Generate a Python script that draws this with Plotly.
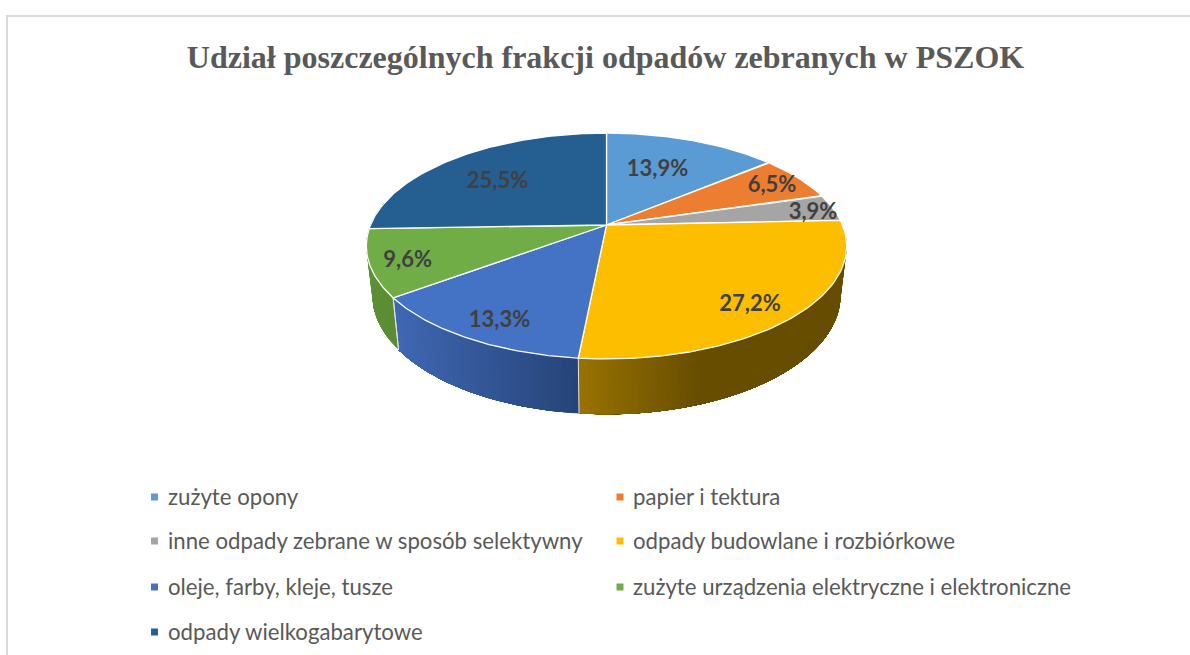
import numpy as np
import plotly.graph_objects as go

# ---- data ----
CATEGORIES = [
    "zużyte opony",
    "papier i tektura",
    "inne odpady zebrane w sposób selektywny",
    "odpady budowlane i rozbiórkowe",
    "oleje, farby, kleje, tusze",
    "zużyte urządzenia elektryczne i elektroniczne",
    "odpady wielkogabarytowe",
]
VALUES = [13.9, 6.5, 3.9, 27.2, 13.3, 9.6, 25.5]
COLORS = ["#5B9BD5", "#ED7D31", "#A5A5A5", "#FDBE00", "#4472C4", "#70AD47", "#255E91"]
TITLE = "Udział poszczególnych frakcji odpadów zebranych w PSZOK"

# ---- styling / layout constants ----
LABEL_RADII = [0.62, 0.85, 0.88, 0.80, 0.80, 0.85, 0.68]
LABEL_SHIFTS = [(-5, 1), (1, 2), (7, 4), (-2, 9), (0, 9), (1, 4), (-3, 5)]
LEGEND_COLS = [(154.5, 166), (620, 631)]
LEGEND_ROWS = [496, 540, 586, 631]
# side gradient (left x, left colour, right x, right colour), by slice index
SIDE_GRAD = {
    3: (578, (154, 116, 0), 700, (102, 77, 0)),
    4: (398, (64, 104, 180), 578, (38, 68, 120)),
    5: (365, (96, 146, 56), 398, (92, 140, 52)),
}
CX, CY = 606.5, 225.0
R, K, P = 236.0, 109.0, 0.186      # top disc projection
R2, K2, CY2 = 230.0, 115.0, 273.0  # bottom disc projection


def top(r, t):
    u, v = r * np.sin(t), r * np.cos(t)
    s = 1 / (1 + P * v)
    return CX + R * u * s, CY - K * v * s


def bottom(t):
    u, v = np.sin(t), np.cos(t)
    s = 1 / (1 + P * v)
    return CX + R2 * u * s, CY2 - K2 * v * s


total = sum(VALUES)
edges = 2 * np.pi * np.concatenate([[0], np.cumsum(VALUES)]) / total

fig = go.Figure()


def poly(xs, ys, fill, line="rgba(0,0,0,0)", width=0.0):
    fig.add_trace(go.Scatter(x=xs, y=ys, mode="lines", fill="toself", fillcolor=fill,
                             line=dict(color=line, width=width), hoverinfo="skip",
                             showlegend=False))


# side wall: overlapping bands, shaded left to right, painted so that no seams show
for i, (x0, c0, x1, c1) in SIDE_GRAD.items():
    a, b = edges[i], edges[i + 1]
    if i == 5:
        b = b + np.radians(14)  # wall wraps behind the rim
    ts = np.linspace(a, b, max(4, int(np.degrees(b - a) / 1.0)) + 1)
    bands = ts[:-1] if i != 3 else ts[:-1]
    for ta in bands:
        tt = np.linspace(ta, b, 40)
        xt, yt = top(1, tt)
        xb, yb = bottom(tt)
        xm = bottom(ta + (ts[1] - ts[0]) / 2)[0]
        w = float(np.clip((xm - x0) / (x1 - x0), 0, 1))
        col = "rgb(%d,%d,%d)" % tuple(c0[k] + (c1[k] - c0[k]) * w for k in range(3))
        poly(np.r_[xt, xb[::-1], xt[0]], np.r_[yt, yb[::-1], yt[0]], col)

# light seams on the wall
for i in (3, 4, 5):
    e = edges[i + 1] if i < 5 else edges[5]
    xa, ya = top(1, e)
    xb, yb = bottom(e)
    fig.add_trace(go.Scatter(x=[xa, xb], y=[ya, yb], mode="lines", hoverinfo="skip",
                             line=dict(color="#E4E4E4", width=1), showlegend=False))

# top face
for i, col in enumerate(COLORS):
    ts = np.linspace(edges[i], edges[i + 1], 80)
    xs, ys = top(1, ts)
    poly(np.r_[CX, xs, CX], np.r_[CY, ys, CY], col, "#FFFFFF", 1.3)

# data labels
mids = (edges[:-1] + edges[1:]) / 2
pts = [top(r, t) for r, t in zip(LABEL_RADII, mids)]
lx = [p[0] + s[0] for p, s in zip(pts, LABEL_SHIFTS)]
ly = [p[1] + s[1] for p, s in zip(pts, LABEL_SHIFTS)]
fig.add_trace(go.Scatter(
    x=lx, y=ly, mode="text",
    text=[f"<b>{v:.1f}%</b>".replace(".", ",") for v in VALUES],
    textposition="middle center",
    textfont=dict(family="Lato", size=22, color="#404040"),
    hoverinfo="skip", showlegend=False))

# legend
annotations = []
for i, (name, col) in enumerate(zip(CATEGORIES, COLORS)):
    mx, tx = LEGEND_COLS[i % 2]
    y = LEGEND_ROWS[i // 2]
    fig.add_trace(go.Scatter(x=[mx], y=[y + 1], mode="markers", hoverinfo="skip", showlegend=False,
                             marker=dict(symbol="square", size=7, color=col)))
    annotations.append(dict(x=tx, y=y, xref="x", yref="y", text=name, showarrow=False,
                            xanchor="left", yanchor="middle",
                            font=dict(family="Lato", size=22.2, color="#595959")))

fig.update_layout(
    width=1190, height=655,
    margin=dict(l=0, r=0, t=0, b=0),
    paper_bgcolor="white", plot_bgcolor="white",
    xaxis=dict(range=[0, 1190], visible=False, fixedrange=True),
    yaxis=dict(range=[655, 0], visible=False, fixedrange=True),
    title=dict(text=f"<b>{TITLE}</b>", x=605.5 / 1190, xanchor="center", y=1 - 57 / 655,
               yanchor="middle", font=dict(family="Liberation Serif", size=32, color="#595959")),
    annotations=annotations,
    shapes=[dict(type="path", path="M 7 655 L 7 16 L 1190 16", xref="x", yref="y",
                 line=dict(color="#D9D9D9", width=2))],
)

fig.write_html("out.html", post_script="document.body.style.margin='0';", config={"displayModeBar": False})
